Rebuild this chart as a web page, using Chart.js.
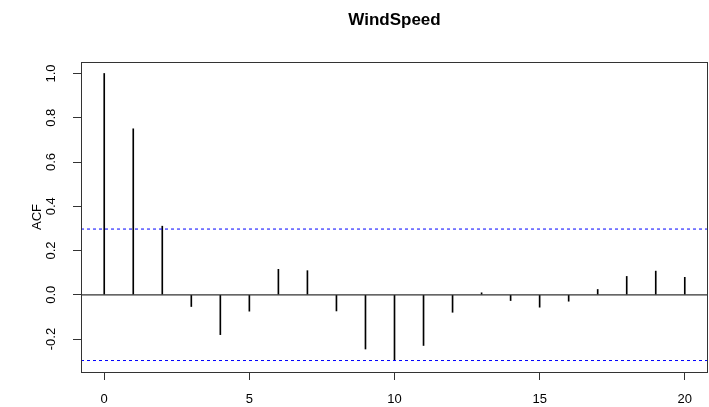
<!DOCTYPE html>
<html><head><meta charset="utf-8">
<script src="https://cdn.jsdelivr.net/npm/chart.js@4/dist/chart.umd.min.js"></script>
<style>html,body{margin:0;padding:0;background:#fff}</style>
</head><body>
<canvas id="c" width="709" height="407"></canvas>
<script>
const chartTitle = 'WindSpeed';
const yAxisLabel = 'ACF';
const lags = [0,1,2,3,4,5,6,7,8,9,10,11,12,13,14,15,16,17,18,19,20];
const acfValues = [1.0, 0.750, 0.310, -0.053, -0.180, -0.074, 0.115, 0.109, -0.073, -0.245, -0.295, -0.229, -0.079, 0.009, -0.026, -0.056, -0.029, 0.024, 0.083, 0.107, 0.079];
const ciBound = 0.297;
const xTickValues = [0,5,10,15,20];
const yTickValues = [-0.2,0.0,0.2,0.4,0.6,0.8,1.0];

const FONT = '"Liberation Sans", Arial, Helvetica, sans-serif';

// R-style axis limits: data range extended by 4%
const xLo = Math.min(...lags), xHi = Math.max(...lags);
const xPad = (xHi - xLo) * 0.04;
const xMin = xLo - xPad, xMax = xHi + xPad;
const yLo = Math.min(-ciBound, ...acfValues), yHi = Math.max(ciBound, ...acfValues);
const yPad = (yHi - yLo) * 0.04;
const yMin = yLo - yPad, yMax = yHi + yPad;

const rFrame = {
  id: 'rFrame',
  afterDraw(chart) {
    const {ctx, chartArea: a, scales: {y}} = chart;
    ctx.save();
    ctx.strokeStyle = '#333';
    ctx.lineWidth = 1;
    ctx.strokeRect(Math.round(a.left) + 0.5, Math.round(a.top) + 0.5, Math.round(a.right - a.left) - 1, Math.round(a.bottom - a.top));
    ctx.fillStyle = '#000';
    ctx.font = '13px ' + FONT;
    ctx.textAlign = 'center';
    ctx.textBaseline = 'middle';
    y.ticks.forEach(t => {
      const py = y.getPixelForValue(t.value);
      ctx.save();
      ctx.translate(51, py);
      ctx.rotate(-Math.PI / 2);
      ctx.fillText(Number(t.value).toFixed(1), 0, 0);
      ctx.restore();
    });
    ctx.restore();
  }
};

new Chart(document.getElementById('c'), {
  type: 'bar',
  data: {
    datasets: [
      {
        type: 'bar',
        data: lags.map((l, i) => ({x: l, y: acfValues[i]})),
        backgroundColor: '#000',
        borderWidth: 0,
        barThickness: 1,
        order: 3
      },
      {
        type: 'line',
        data: [{x: xMin, y: 0}, {x: xMax, y: 0}],
        borderColor: '#333', borderWidth: 1.3, pointRadius: 0, order: 2
      },
      {
        type: 'line',
        data: [{x: xMin, y: ciBound}, {x: xMax, y: ciBound}],
        borderColor: '#0000ff', borderWidth: 1, borderDash: [3, 3], pointRadius: 0, order: 1
      },
      {
        type: 'line',
        data: [{x: xMin, y: -ciBound}, {x: xMax, y: -ciBound}],
        borderColor: '#0000ff', borderWidth: 1, borderDash: [3, 3], pointRadius: 0, order: 1
      }
    ]
  },
  options: {
    responsive: false,
    devicePixelRatio: 1,
    animation: false,
    layout: {padding: {left: 0, right: 1, top: 0, bottom: 0}},
    plugins: {
      legend: {display: false},
      tooltip: {enabled: false},
      title: {
        display: true, text: chartTitle, fullSize: false, color: '#000',
        font: {family: FONT, size: 17, weight: 'bold', lineHeight: 1.2},
        padding: {top: 10, bottom: 62 - 10 - 17 * 1.2}
      }
    },
    scales: {
      x: {
        type: 'linear', min: xMin, max: xMax, offset: false,
        afterBuildTicks: s => { s.ticks = xTickValues.map(v => ({value: v})); },
        afterFit: s => { s.height = 35; },
        grid: {drawOnChartArea: false, drawTicks: true, tickLength: 8, color: '#333', offset: false},
        border: {display: false},
        ticks: {font: {family: FONT, size: 13}, color: '#000', padding: 12, autoSkip: false, maxRotation: 0, minRotation: 0, callback: v => String(v)}
      },
      y: {
        type: 'linear', min: yMin, max: yMax,
        afterBuildTicks: s => { s.ticks = yTickValues.map(v => ({value: v})); },
        afterFit: s => { s.width = 81; },
        grid: {drawOnChartArea: false, drawTicks: true, tickLength: 8, color: '#333'},
        border: {display: false},
        ticks: {display: false},
        title: {display: true, text: yAxisLabel, color: '#000', font: {family: FONT, size: 13, lineHeight: 1.2}, padding: {top: 30, bottom: 0}}
      }
    }
  },
  plugins: [rFrame]
});
</script>
</body></html>
